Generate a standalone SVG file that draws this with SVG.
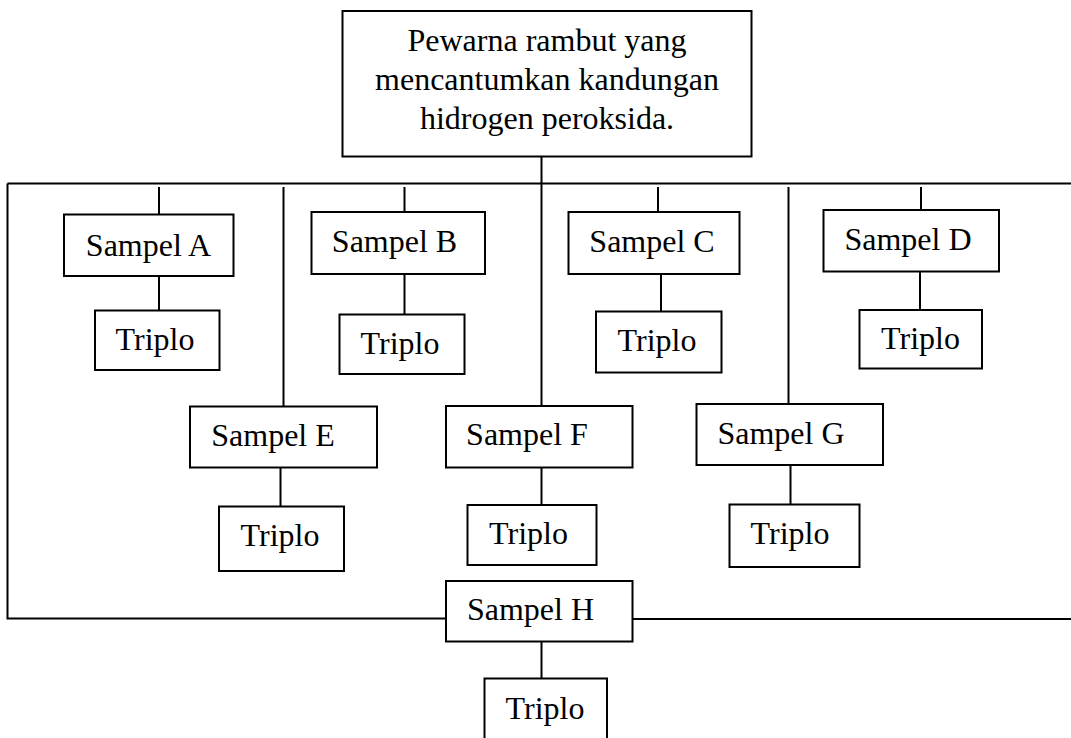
<svg xmlns="http://www.w3.org/2000/svg" width="1071" height="738" viewBox="0 0 1071 738">
<style>
.b{fill:#fff;stroke:#000;stroke-width:2}
.c{fill:none;stroke:#000;stroke-width:2}
text{font-family:"Liberation Serif","Times New Roman",serif;font-size:32px;fill:#000;text-anchor:middle}
</style>
<rect width="1071" height="738" fill="#fff"/>
<g id="connectors">
<path class="c" d="M7.5 183.5H1071M7.5 183.5V618.5H446M632 619H1071"/>
<path class="c" d="M541.5 156V406M159 187V214.5M159 276V310.5M283.5 187V406M404.5 187V212M404.5 274V314.5M658 187V212M661 274V311.5M788.5 187V404M921 187V210M920 271.5V310M280.5 467.5V506.5M541.5 467V505M790.5 465V504.5M541.5 641.5V678.5"/>
</g>
<g id="root"><rect class="b" x="342.5" y="11" width="409" height="145.5"/>
<text x="547" y="51">Pewarna rambut yang</text>
<text x="547" y="90">mencantumkan kandungan</text>
<text x="547" y="129">hidrogen peroksida.</text></g>
<g id="sampelA"><rect class="b" x="64" y="214.5" width="169.5" height="61.5"/><text x="148.5" y="256">Sampel A</text></g>
<g id="triploA"><rect class="b" x="95" y="310.5" width="124.5" height="59.5"/><text x="155" y="350">Triplo</text></g>
<g id="sampelB"><rect class="b" x="311.5" y="212" width="173.5" height="62"/><text x="394.5" y="252">Sampel B</text></g>
<g id="triploB"><rect class="b" x="339.5" y="314.5" width="125" height="59.5"/><text x="400" y="354">Triplo</text></g>
<g id="sampelC"><rect class="b" x="568.5" y="212" width="171" height="62"/><text x="652" y="252">Sampel C</text></g>
<g id="triploC"><rect class="b" x="596" y="311.5" width="125.5" height="61"/><text x="657" y="351">Triplo</text></g>
<g id="sampelD"><rect class="b" x="823.5" y="210" width="175.5" height="61.5"/><text x="908" y="250">Sampel D</text></g>
<g id="triploD"><rect class="b" x="859.5" y="310" width="122.5" height="58.5"/><text x="920.5" y="348.5">Triplo</text></g>
<g id="sampelE"><rect class="b" x="190" y="406.5" width="187" height="61"/><text x="273" y="446">Sampel E</text></g>
<g id="triploE"><rect class="b" x="219" y="506.5" width="125" height="64.5"/><text x="280" y="546">Triplo</text></g>
<g id="sampelF"><rect class="b" x="446" y="406" width="186.5" height="61.5"/><text x="527" y="445">Sampel F</text></g>
<g id="triploF"><rect class="b" x="467.5" y="505" width="129" height="60"/><text x="528.5" y="543.5">Triplo</text></g>
<g id="sampelG"><rect class="b" x="696.5" y="404" width="186.5" height="61"/><text x="781" y="443.5">Sampel G</text></g>
<g id="triploG"><rect class="b" x="729.5" y="504.5" width="130" height="62.5"/><text x="790" y="543.5">Triplo</text></g>
<g id="sampelH"><rect class="b" x="446" y="581" width="186.5" height="60.5"/><text x="530.5" y="620">Sampel H</text></g>
<g id="triploH"><rect class="b" x="484.5" y="678.5" width="122.5" height="70"/><text x="545" y="718.5">Triplo</text></g>
</svg>
